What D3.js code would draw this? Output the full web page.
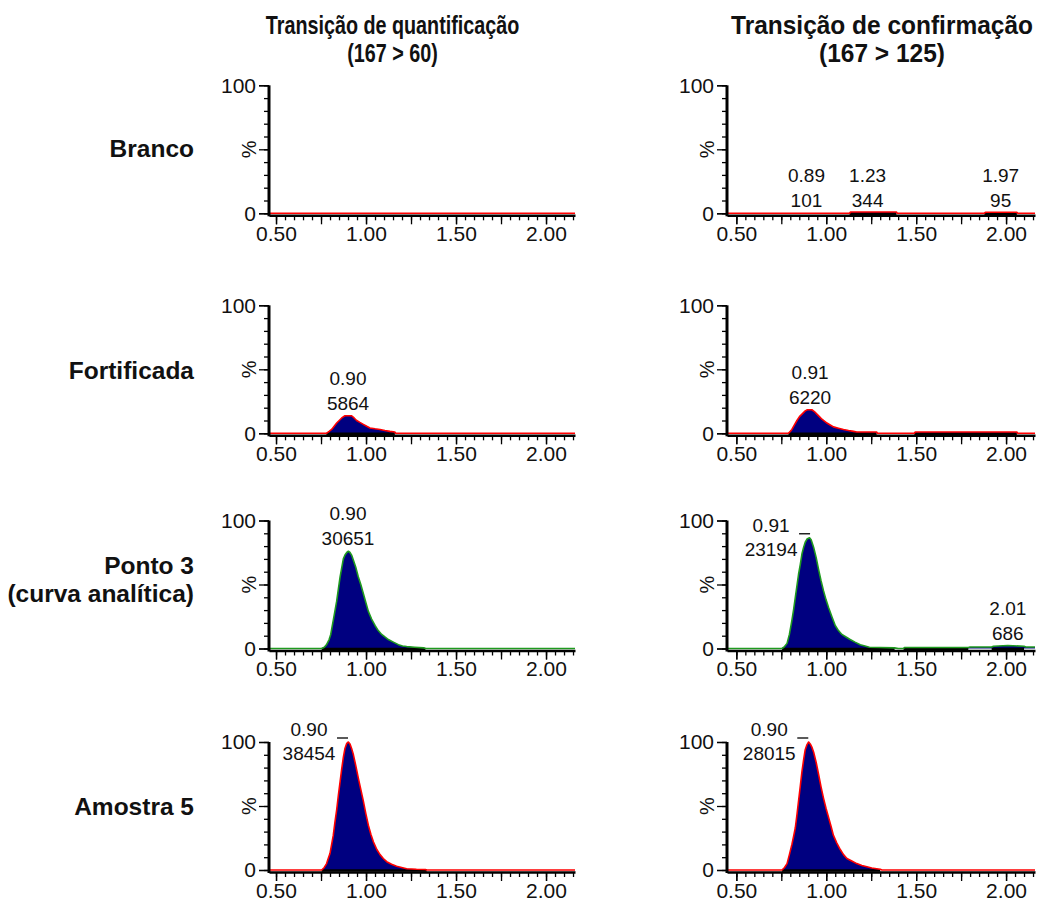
<!DOCTYPE html>
<html>
<head>
<meta charset="utf-8">
<script src="https://d3js.org/d3.v7.min.js"></script>
<style>
  body { margin: 0; background: #fff; }
  text { font-family: "Liberation Sans", Arial, sans-serif; fill: #111; }
</style>
</head>
<body>
<script>
// ---- titles / tick labels ----
var colTitles = [["Transição de quantificação", "(167 > 60)"],
                 ["Transição de confirmação", "(167 > 125)"]];
var rowTitles = [["Branco"], ["Fortificada"], ["Ponto 3", "(curva analítica)"], ["Amostra 5"]];
var xTickLabels = [0.50, 1.00, 1.50, 2.00];
var yTickLabels = [0, 100];

// ---- traces: [retention time (min), intensity (%)] ----
var brancoQ = [[0.461,0],[2.161,0]];
var brancoC = [[0.448,0],[1.13,0],[1.135,1.0],[1.39,1.0],[1.395,0],[1.88,0],[1.885,0.8],[2.06,0.8],[2.065,0],[2.161,0]];

var fortQ = [[0.461,0],[0.78,0],[0.795,1.5],[0.809,3],[0.823,5.5],[0.837,8],[0.851,10],[0.865,12],[0.883,13.7],
             [0.92,13.7],[0.934,12],[0.948,10],[0.966,8.5],[0.985,7],[1.004,5.5],[1.022,4.2],[1.05,3.5],[1.078,3],
             [1.105,2.2],[1.133,1.5],[1.16,1],[1.165,0],[2.161,0]];
var fortC = [[0.448,0],[0.79,0],[0.80,1.5],[0.809,3],[0.823,6.5],[0.837,10],[0.851,13],[0.865,15],[0.883,17.5],
             [0.895,18.4],[0.92,18.4],[0.934,17],[0.948,15],[0.962,13],[0.976,11],[0.99,9.5],[1.004,8],[1.022,6.5],
             [1.04,5],[1.068,4],[1.096,3],[1.124,2.2],[1.152,1.5],[1.17,1],[1.28,1],[1.285,0],[1.49,0],[1.495,1],
             [2.06,1],[2.065,0],[2.161,0]];

var pontoQ = [[0.461,0],[0.754,0],[0.768,1],[0.781,3],[0.795,7],[0.804,11],[0.818,22],[0.827,29],[0.837,37],
              [0.846,46],[0.856,56],[0.865,63],[0.874,70],[0.883,73],[0.893,75],[0.902,76],[0.911,75],[0.92,73],
              [0.93,69],[0.944,63],[0.957,56],[0.971,50],[0.985,43],[0.999,36],[1.013,29],[1.031,23],[1.05,18],
              [1.068,14],[1.087,11],[1.105,9],[1.124,7],[1.152,5],[1.18,3],[1.203,2],[1.226,1.5],[1.27,1],
              [1.32,0.5],[1.33,0],[2.161,0]];
var pontoC = [[0.448,0],[0.754,0],[0.768,1.5],[0.782,4],[0.795,11],[0.809,22],[0.818,30],[0.828,40],[0.837,49],
              [0.846,58],[0.856,66],[0.865,74],[0.874,79],[0.883,83],[0.893,85.5],[0.907,86.5],[0.916,85],
              [0.93,79],[0.944,71],[0.957,62],[0.971,53],[0.985,45],[0.999,38],[1.013,32],[1.031,25],[1.05,18],
              [1.068,14],[1.087,11],[1.11,9],[1.133,7],[1.16,5],[1.189,3],[1.215,2],[1.24,1],[1.30,0.8],
              [1.38,0.5],[1.40,0],[1.43,0],[1.435,0.8],[1.79,0.8],[1.80,1.2],[1.92,1.2],[1.93,1.8],[2.01,2.3],
              [2.10,1.8],[2.11,1.2],[2.161,1.2]];

var amostraQ = [[0.461,0],[0.754,0],[0.768,2],[0.781,5],[0.79,9],[0.80,13],[0.809,20],[0.818,27],[0.827,37],
                [0.837,47],[0.846,58],[0.856,69],[0.865,79],[0.874,88],[0.883,95],[0.893,99],[0.902,100],
                [0.911,98.5],[0.92,95],[0.93,90],[0.944,81],[0.957,72],[0.971,63],[0.985,54],[0.999,44],
                [1.013,35],[1.027,28],[1.041,22],[1.06,16],[1.078,12],[1.096,9],[1.115,6.5],[1.142,4.5],
                [1.17,3],[1.198,2],[1.226,1],[1.28,0.6],[1.33,0.4],[1.337,0],[2.161,0]];
var amostraC = [[0.448,0],[0.754,0],[0.768,2],[0.782,5],[0.795,12],[0.809,20],[0.818,26],[0.828,33],[0.837,43],
                [0.846,54],[0.856,66],[0.865,77],[0.874,86],[0.883,94],[0.893,98],[0.902,100],[0.911,98.5],
                [0.92,96],[0.93,92],[0.944,84],[0.957,75],[0.971,65],[0.985,56],[0.999,48],[1.013,41],
                [1.027,34],[1.04,27],[1.059,21],[1.078,16],[1.096,12],[1.115,9],[1.142,7],[1.17,5],[1.198,3.5],
                [1.226,2.5],[1.253,1.5],[1.28,1],[1.30,0.6],[1.31,0],[2.161,0]];

// ---- integrated ranges (black baselines) ----
var integBrancoQ = [];
var integBrancoC = [[1.13,1.39],[1.88,2.06]];
var integFortQ = [[0.78,1.16]];
var integFortC = [[0.79,1.28],[1.49,2.06]];
var integPontoQ = [[0.754,1.33]];
var integPontoC = [[0.754,1.38],[1.43,1.79],[1.92,2.10]];
var integAmostraQ = [[0.754,1.337]];
var integAmostraC = [[0.754,1.30]];

// ---- peak labels: [rt, area/height] ----
var lblBrancoQ = [];
var lblBrancoC = [[0.89, 101], [1.23, 344], [1.97, 95]];
var lblFortQ = [[0.90, 5864]];
var lblFortC = [[0.91, 6220]];
var lblPontoQ = [[0.90, 30651]];
var lblPontoC = [[0.91, 23194], [2.01, 686]];
var lblAmostraQ = [[0.90, 38454]];
var lblAmostraC = [[0.90, 28015]];

// ---- layout ----
var W = 1037, H = 904;
var cols = [{domain: [0.461, 2.161], range: [269, 575], title: 392.5, squeeze: 0.775},
            {domain: [0.448, 2.161], range: [727, 1035], title: 882, squeeze: 0.96}];
var rowZero = [213.3, 433.3, 648.5, 870];
var plotH = 128;

var panels = [
  {row: 0, col: 0, trace: brancoQ, integ: integBrancoQ, labels: lblBrancoQ, color: "#ff0000"},
  {row: 0, col: 1, trace: brancoC, integ: integBrancoC, labels: lblBrancoC, color: "#ff0000"},
  {row: 1, col: 0, trace: fortQ, integ: integFortQ, labels: lblFortQ, color: "#ff0000"},
  {row: 1, col: 1, trace: fortC, integ: integFortC, labels: lblFortC, color: "#ff0000"},
  {row: 2, col: 0, trace: pontoQ, integ: integPontoQ, labels: lblPontoQ, color: "#1f9a1f"},
  {row: 2, col: 1, trace: pontoC, integ: integPontoC, labels: lblPontoC, color: "#1f9a1f"},
  {row: 3, col: 0, trace: amostraQ, integ: integAmostraQ, labels: lblAmostraQ, color: "#ff0000"},
  {row: 3, col: 1, trace: amostraC, integ: integAmostraC, labels: lblAmostraC, color: "#ff0000"}
];

var svg = d3.select("body").append("svg")
    .attr("width", W).attr("height", H);

// column titles (the source uses a narrow bold face)
cols.forEach(function(c, i) {
  colTitles[i].forEach(function(t, k) {
    svg.append("text")
      .attr("transform", "translate(" + c.title + "," + (33.5 + k * 28) + ") scale(" + c.squeeze + ",1)")
      .attr("text-anchor", "middle")
      .attr("font-size", 25.5).attr("font-weight", "bold")
      .text(t);
  });
});

// row titles
var rowTitleY = [157, 379, 574, 815];
rowTitles.forEach(function(r, i) {
  r.forEach(function(t, k) {
    svg.append("text")
      .attr("x", 194).attr("y", rowTitleY[i] + k * 27.5)
      .attr("text-anchor", "end")
      .attr("font-size", 24.5).attr("font-weight", "bold")
      .text(t);
  });
});

var minorX = d3.range(0.50, 2.16, 0.05).map(function(v) { return +v.toFixed(2); });
var majorX = d3.range(0.50, 2.16, 0.25);
var minorY = d3.range(0, 101, 10);

panels.forEach(function(p) {
  var c = cols[p.col];
  var y0 = rowZero[p.row];
  var x = d3.scaleLinear().domain(c.domain).range(c.range);
  var y = d3.scaleLinear().domain([0, 100]).range([y0, y0 - plotH]);
  var g = svg.append("g");

  var area = d3.area()
      .x(function(d) { return x(d[0]); })
      .y0(y(0))
      .y1(function(d) { return y(d[1]); });
  var line = d3.line()
      .x(function(d) { return x(d[0]); })
      .y(function(d) { return y(d[1]); });

  g.append("path").datum(p.trace)
    .attr("d", area)
    .attr("fill", "#000080");

  p.integ.forEach(function(s) {
    g.append("line")
      .attr("x1", x(s[0])).attr("x2", x(s[1]))
      .attr("y1", y(0) + 0.5).attr("y2", y(0) + 0.5)
      .attr("stroke", "#000").attr("stroke-width", 2.5);
  });

  g.append("path").datum(p.trace)
    .attr("d", line)
    .attr("fill", "none")
    .attr("stroke", p.color)
    .attr("stroke-width", 1.6)
    .attr("stroke-linejoin", "round");

  // x axis: minor (0.05), major (0.25), labelled (0.5)
  var axY = y(0) + 2;
  var gx1 = g.append("g").attr("transform", "translate(0," + axY + ")")
      .call(d3.axisBottom(x).tickValues(minorX).tickSize(5).tickSizeOuter(0).tickFormat(""));
  gx1.select(".domain").attr("stroke-width", 2.5).attr("stroke", "#000");
  gx1.selectAll(".tick line").attr("stroke-width", 1.3);

  var gx2 = g.append("g").attr("transform", "translate(0," + axY + ")")
      .call(d3.axisBottom(x).tickValues(majorX).tickSize(9).tickSizeOuter(0).tickFormat(""));
  gx2.select(".domain").remove();
  gx2.selectAll(".tick line").attr("stroke-width", 1.3);

  var gx3 = g.append("g").attr("transform", "translate(0," + axY + ")")
      .call(d3.axisBottom(x).tickValues(xTickLabels).tickSize(9).tickPadding(2)
            .tickFormat(d3.format(".2f")));
  gx3.select(".domain").remove();
  gx3.selectAll(".tick line").attr("stroke-width", 1.3);
  gx3.selectAll(".tick text").attr("font-size", 21).attr("font-family", "Liberation Sans, Arial, sans-serif")
     .attr("fill", "#111");

  // y axis: minor (10), major (50), labelled (0, 100)
  var yx = c.range[0];
  var gy1 = g.append("g").attr("transform", "translate(" + yx + ",0)")
      .call(d3.axisLeft(y).tickValues(minorY).tickSize(5).tickFormat(""));
  gy1.select(".domain").remove();
  gy1.selectAll(".tick line").attr("stroke-width", 1.3);

  var gy2 = g.append("g").attr("transform", "translate(" + yx + ",0)")
      .call(d3.axisLeft(y).tickValues([0, 50, 100]).tickSize(10).tickFormat(""));
  gy2.select(".domain").remove();
  gy2.selectAll(".tick line").attr("stroke-width", 1.3);

  var gy3 = g.append("g").attr("transform", "translate(" + yx + ",0)")
      .call(d3.axisLeft(y).tickValues(yTickLabels).tickSize(10).tickPadding(3).tickFormat(d3.format("d")));
  gy3.select(".domain").remove();
  gy3.selectAll(".tick line").attr("stroke-width", 1.3);
  gy3.selectAll(".tick text").attr("font-size", 21).attr("font-family", "Liberation Sans, Arial, sans-serif")
     .attr("fill", "#111");

  g.append("line")
    .attr("x1", yx).attr("x2", yx)
    .attr("y1", y(100)).attr("y2", axY + 1)
    .attr("stroke", "#000").attr("stroke-width", 3);

  g.append("text")
    .attr("transform", "translate(" + (yx - 13) + "," + y(50) + ") rotate(-90)")
    .attr("text-anchor", "middle")
    .attr("font-size", 20)
    .text("%");

  // peak labels: above apex, or to the left when the apex is near the top
  p.labels.forEach(function(l) {
    var near = p.trace.filter(function(d) { return Math.abs(d[0] - l[0]) < 0.03; });
    var h = d3.max(near, function(d) { return d[1]; }) || 0;
    var px = x(l[0]), py = y(h);
    var lx, ly1, ly2;
    if (h > 80) {
      lx = px - 39; ly1 = py - 6; ly2 = py + 18;
      g.append("line")
        .attr("x1", px - 11).attr("x2", px)
        .attr("y1", py - 4).attr("y2", py - 4)
        .attr("stroke", "#000").attr("stroke-width", 1.3);
    } else {
      lx = px; ly1 = py - 31; ly2 = py - 6;
    }
    g.append("text").attr("x", lx).attr("y", ly1)
      .attr("text-anchor", "middle").attr("font-size", 19)
      .text(d3.format(".2f")(l[0]));
    g.append("text").attr("x", lx).attr("y", ly2)
      .attr("text-anchor", "middle").attr("font-size", 19)
      .text(l[1]);
  });
});
</script>
</body>
</html>
